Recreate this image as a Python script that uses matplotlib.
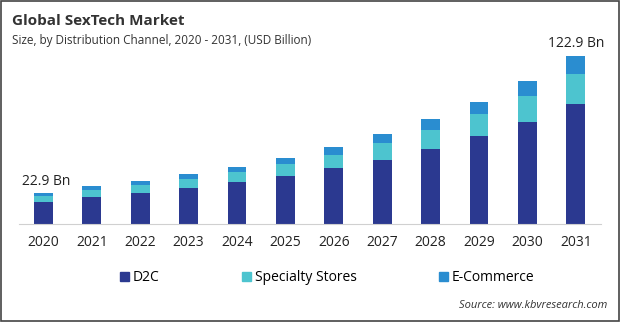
import numpy as np
import matplotlib.pyplot as plt
from matplotlib.patches import Rectangle, Patch

plt.rcParams['font.family'] = ['Open Sans', 'DejaVu Sans']

years = ['2020', '2021', '2022', '2023', '2024', '2025',
         '2026', '2027', '2028', '2029', '2030', '2031']
d2c = [16.1, 19.7, 22.6, 26.3, 30.7, 35.0, 40.9, 46.7, 54.8, 64.3, 74.5, 87.6]
specialty = [4.3, 5.1, 6.1, 6.6, 7.3, 8.8, 9.5, 12.4, 13.8, 16.0, 19.0, 21.9]
ecommerce = [2.5, 3.2, 2.7, 3.6, 3.6, 4.4, 5.8, 6.6, 8.1, 8.8, 10.9, 13.4]
series_names = ['D2C', 'Specialty Stores', 'E-Commerce']
colors = ['#2b3990', '#4dc4cf', '#2a8dd0']

fig = plt.figure(figsize=(6.2, 3.22), dpi=100)
ax = fig.add_axes([0.0306, 0.3043, 0.9387, 0.553])

x = np.arange(len(years))
w = 0.39
bottom = np.zeros(len(years))
for vals, c in zip([d2c, specialty, ecommerce], colors):
    ax.bar(x, vals, w, bottom=bottom, color=c, zorder=2)
    bottom += np.array(vals)

ax.set_xlim(-0.506, 11.52)
ax.set_ylim(0, 130)
ax.set_yticks([])
ax.set_xticks(x)
ax.set_xticklabels(years, fontsize=10, color='#222222')
ax.tick_params(axis='x', length=0, pad=8)
for s in ['top', 'right', 'left']:
    ax.spines[s].set_visible(False)
ax.spines['bottom'].set_color('#d0d0d0')

# end labels
ax.text(x[0] - 0.45, bottom[0] + 3, '22.9 Bn', fontsize=10, ha='left', va='bottom', color='#222222')
ax.text(x[-1] + 0.6, bottom[-1] + 3.5, '122.9 Bn', fontsize=10, ha='right', va='bottom', color='#222222')

fig.text(0.019, 0.935, 'Global SexTech Market', fontsize=11, fontweight='bold',
         color='#333333', va='center')
fig.text(0.019, 0.873, 'Size, by Distribution Channel, 2020 - 2031, (USD Billion)',
         fontsize=8.5, color='#333333', va='center')

handles = [Patch(color=c) for c in colors]
fig.legend(handles, series_names, loc='center left', bbox_to_anchor=(0.193, 0.137),
           ncol=3, frameon=False, fontsize=10, handlelength=0.65, handleheight=0.65,
           handletextpad=0.3, columnspacing=5.9, borderaxespad=0, borderpad=0)

fig.text(0.979, 0.05, 'Source: www.kbvresearch.com', fontsize=8, style='italic',
         ha='right', va='center', color='#333333')

fig.patches.append(Rectangle((0.001, 0.002), 0.997, 0.995, transform=fig.transFigure,
                             fill=False, edgecolor='#444444', linewidth=1.2))

fig.savefig('out.png', dpi=100)
